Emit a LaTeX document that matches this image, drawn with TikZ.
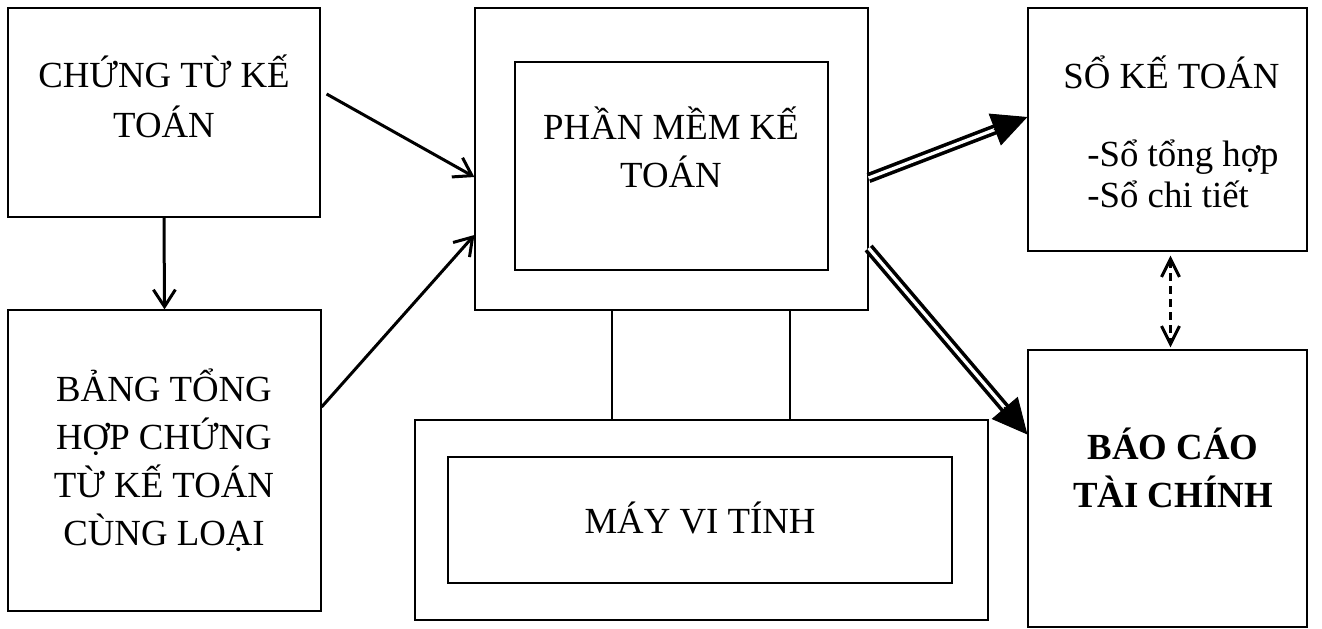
\documentclass[tikz,border=0pt]{standalone}
\usepackage{fontspec}
\setmainfont{Liberation Serif}
\usetikzlibrary{arrows.meta}
\usetikzlibrary{calc}

\begin{document}
\begin{tikzpicture}[x=0.5pt,y=-0.5pt,
box/.style={draw,line width=0.6pt,inner sep=0pt},
txt/.style={font=\fontsize{18.4}{24}\selectfont,align=center,inner sep=0pt},
arr/.style={line width=1.5pt,-{Straight Barb[length=8.5pt,width=11pt]}},
dbl/.style={double,line width=1.8pt,double distance=1.6pt,shorten >=15pt},
head/.style={line width=0.5pt,-{Triangle[length=17.5pt,width=17pt]}},
dasharr/.style={line width=1.5pt,dash pattern=on 4pt off 2.5pt,
  {Straight Barb[length=9pt,width=9pt]}-{Straight Barb[length=9pt,width=9pt]}},
link/.style={line width=0.85pt}]
\useasboundingbox (0,0) rectangle (1322,628);

% boxes
\node[box,minimum width=156pt,minimum height=104.5pt] (ct) at (164,112.5) {};
\node[box,minimum width=156.5pt,minimum height=150.5pt] (bth) at (164.5,460.5) {};
\node[box,minimum width=196.5pt,minimum height=151pt] (pm) at (671.5,159) {};
\node[box,minimum width=156.5pt,minimum height=104pt] (pmin) at (671.5,166) {};
\node[box,minimum width=286.5pt,minimum height=100pt] (mvt) at (701.5,520) {};
\node[box,minimum width=252pt,minimum height=63pt] (mvtin) at (700,520) {};
\node[box,minimum width=139.5pt,minimum height=121.5pt] (skt) at (1167.5,129.5) {};
\node[box,minimum width=139.5pt,minimum height=138.5pt] (bctc) at (1167.5,488.5) {};

% texts
\node[txt,font=\fontsize{18.4}{25}\selectfont] (ctt) at (164,96) {CHỨNG TỪ KẾ\\TOÁN};
\node[txt] (btht) at (164,460) {BẢNG TỔNG\\HỢP CHỨNG\\TỪ KẾ TOÁN\\CÙNG LOẠI};
\node[txt] (pmt) at (671,147) {PHẦN MỀM KẾ\\TOÁN};
\node[txt,anchor=base] (mvtt) at (700,533) {MÁY VI TÍNH};
\node[txt,anchor=base] (sktt) at (1171.5,88) {SỔ KẾ TOÁN};
\node[txt,anchor=base west] (skta) at (1087,166) {-Sổ tổng hợp};
\node[txt,anchor=base west] (sktb) at (1087,207) {-Sổ chi tiết};
\node[txt,font=\fontsize{18.4}{24}\selectfont\bfseries] (bctct) at (1173,467.5) {BÁO CÁO\\TÀI CHÍNH};

% single arrows
\draw[arr] ([shift={(3pt,9.25pt)}]ct.east) -- ([yshift=-9pt]pm.west);
\draw[arr] ([yshift=26.75pt]bth.east) -- ([yshift=-38pt]pm.west);
\draw[arr] (ct.south) -- (bth.north);

% links to the computer
\draw[link] ([xshift=-29.75pt]pm.south) -- ([xshift=-29.75pt]pm.south |- mvt.north);
\draw[link] ([xshift=59.25pt]pm.south) -- ([xshift=59.25pt]pm.south |- mvt.north);

% double arrows
\coordinate (d1s) at ([yshift=-9.5pt]pm.east);
\coordinate (d1e) at ([yshift=6.25pt]skt.west);
\coordinate (d2s) at ([yshift=-44.5pt]pm.east);
\coordinate (d2e) at ([yshift=27pt]bctc.west);
\draw[dbl] (d1s) -- (d1e);
\draw[head] ($(d1e)!18pt!(d1s)$) -- (d1e);
\draw[dbl] (d2s) -- (d2e);
\draw[head] ($(d2e)!18pt!(d2s)$) -- (d2e);

% dashed
\draw[dasharr] ([xshift=1.5pt,yshift=-2pt]skt.south) -- ([xshift=1.5pt,yshift=1pt]bctc.north);
\end{tikzpicture}
\end{document}
